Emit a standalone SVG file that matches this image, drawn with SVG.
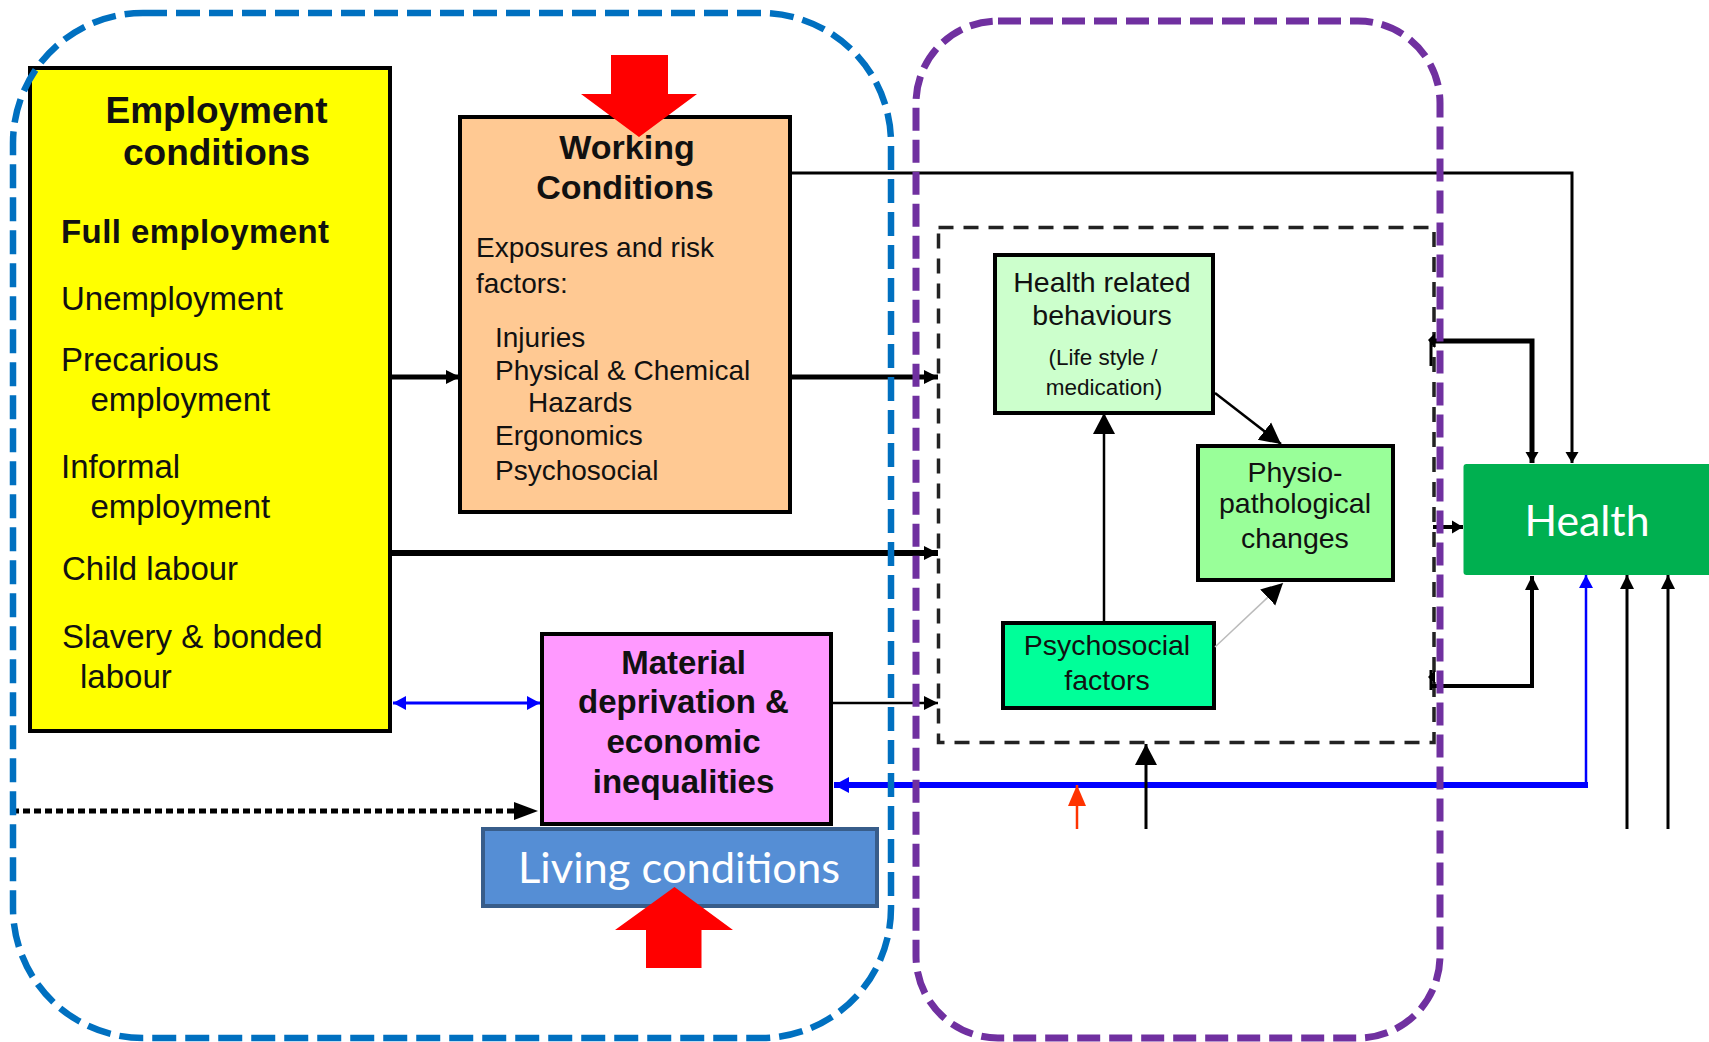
<svg xmlns="http://www.w3.org/2000/svg" width="1709" height="1042" viewBox="0 0 1709 1042">
<defs>
<style>
.box{stroke:#000;stroke-width:4}
.t{font-family:"Liberation Sans",Arial,sans-serif;fill:#111}
.b{font-weight:bold}
.c{text-anchor:middle}
.cal{font-family:Lato,"Open Sans",sans-serif;fill:#fff;text-anchor:middle}
.ln{fill:none;stroke:#000}
</style>
<marker id="ah" markerUnits="userSpaceOnUse" markerWidth="16" markerHeight="16" refX="14" refY="8" orient="auto"><path d="M0,1 L14,8 L0,15 z" fill="#000"/></marker>
<marker id="ahs" markerUnits="userSpaceOnUse" markerWidth="12" markerHeight="14" refX="11" refY="7" orient="auto"><path d="M0,0.5 L11,7 L0,13.5 z" fill="#000"/></marker>
<marker id="ahb" markerUnits="userSpaceOnUse" markerWidth="16" markerHeight="18" refX="15" refY="9" orient="auto-start-reverse"><path d="M0,1 L15,9 L0,17 z" fill="#0000FF"/></marker>
<marker id="ahbs" markerUnits="userSpaceOnUse" markerWidth="14" markerHeight="16" refX="13" refY="8" orient="auto-start-reverse"><path d="M0,1 L13,8 L0,15 z" fill="#0000FF"/></marker>
<marker id="ahr" markerUnits="userSpaceOnUse" markerWidth="22" markerHeight="20" refX="21" refY="10" orient="auto"><path d="M0,1 L21,10 L0,19 z" fill="#FF3300"/></marker>
<marker id="ahl" markerUnits="userSpaceOnUse" markerWidth="22" markerHeight="24" refX="21" refY="12" orient="auto"><path d="M0,1 L21,12 L0,23 z" fill="#000"/></marker>
</defs>

<g id="employment-conditions">
<rect class="box" x="30" y="68" width="360" height="663" fill="#FFFF00"/>
<text class="t b c" x="216.5" y="123" font-size="37">Employment</text>
<text class="t b c" x="216.5" y="165" font-size="37">conditions</text>
<text class="t b" x="61" y="243" font-size="33" textLength="268">Full employment</text>
<text class="t" x="61" y="310" font-size="33">Unemployment</text>
<text class="t" x="61" y="371" font-size="33">Precarious</text>
<text class="t" x="90.5" y="411" font-size="33">employment</text>
<text class="t" x="61" y="478" font-size="33">Informal</text>
<text class="t" x="90.5" y="518" font-size="33">employment</text>
<text class="t" x="62" y="580" font-size="33">Child labour</text>
<text class="t" x="62" y="648" font-size="33">Slavery &amp; bonded</text>
<text class="t" x="80" y="688" font-size="33">labour</text>
</g>

<g id="working-conditions">
<rect class="box" x="460" y="117" width="330" height="395" fill="#FFC993"/>
<text class="t b c" x="627" y="159" font-size="34">Working</text>
<text class="t b c" x="625" y="199" font-size="34">Conditions</text>
<text class="t" x="476" y="257" font-size="28">Exposures and risk</text>
<text class="t" x="476" y="293" font-size="28">factors:</text>
<text class="t" x="495" y="347" font-size="28">Injuries</text>
<text class="t" x="495" y="380" font-size="28">Physical &amp; Chemical</text>
<text class="t" x="528" y="412" font-size="28">Hazards</text>
<text class="t" x="495" y="445" font-size="28">Ergonomics</text>
<text class="t" x="495" y="480" font-size="28">Psychosocial</text>
</g>

<g id="material-deprivation">
<rect class="box" x="542" y="634" width="289" height="190" fill="#FF99FF"/>
<text class="t b c" x="683.5" y="674" font-size="33">Material</text>
<text class="t b c" x="683.5" y="713" font-size="33">deprivation &amp;</text>
<text class="t b c" x="683.5" y="753" font-size="33">economic</text>
<text class="t b c" x="683.5" y="793" font-size="33">inequalities</text>
</g>

<g id="living-conditions">
<rect x="483" y="829" width="394" height="77" fill="#558ED5" stroke="#385D8A" stroke-width="4"/>
<text class="cal" x="679" y="882.5" font-size="42" textLength="322" lengthAdjust="spacingAndGlyphs">Living conditions</text>
</g>

<g id="pathway-box">
<rect x="938.5" y="227.5" width="495.5" height="515" fill="none" stroke="#222" stroke-width="3.5" stroke-dasharray="15 10"/>
</g>

<g id="health-behaviours">
<rect class="box" x="995" y="255" width="218" height="158" fill="#CCFFCC"/>
<text class="t c" x="1102" y="291.5" font-size="28.5">Health related</text>
<text class="t c" x="1102" y="325" font-size="28.5">behaviours</text>
<text class="t c" x="1103" y="365" font-size="22.5">(Life style /</text>
<text class="t c" x="1104" y="395" font-size="22.5">medication)</text>
</g>

<g id="physio-changes">
<rect class="box" x="1198" y="446" width="195" height="134" fill="#99FF99"/>
<text class="t c" x="1295" y="481.5" font-size="28.5">Physio-</text>
<text class="t c" x="1295" y="513" font-size="28.5">pathological</text>
<text class="t c" x="1295" y="548" font-size="28.5">changes</text>
</g>

<g id="psychosocial-factors">
<rect class="box" x="1003" y="623" width="211" height="85" fill="#00FF99"/>
<text class="t c" x="1107" y="655" font-size="28.5">Psychosocial</text>
<text class="t c" x="1107" y="690" font-size="28.5">factors</text>
</g>

<g id="health">
<rect x="1463.5" y="464" width="250" height="111" rx="3" fill="#00B050"/>
<text class="cal" x="1587" y="536" font-size="42" textLength="125" lengthAdjust="spacingAndGlyphs">Health</text>
</g>

<g id="connectors">
<line class="ln" x1="390" y1="377" x2="460" y2="377" stroke-width="5" marker-end="url(#ah)"/>
<line class="ln" x1="790" y1="377" x2="938" y2="377" stroke-width="5" marker-end="url(#ah)"/>
<line class="ln" x1="390" y1="553" x2="938" y2="553" stroke-width="6" marker-end="url(#ah)"/>
<line class="ln" x1="831" y1="703" x2="938" y2="703" stroke-width="2.5" marker-end="url(#ah)"/>
<line x1="393" y1="703" x2="540" y2="703" stroke="#0000FF" stroke-width="3" marker-start="url(#ahbs)" marker-end="url(#ahbs)"/>
<line class="ln" x1="12" y1="811" x2="516" y2="811" stroke-width="5" stroke-dasharray="7 4"/>
<path d="M514,802 L538,811 L514,820 z" fill="#000"/>
<polyline class="ln" points="790,173 1572,173 1572,463" stroke-width="3" marker-end="url(#ahs)"/>
<polyline class="ln" points="1432,341 1532,341 1532,463" stroke-width="5" marker-end="url(#ahs)"/>
<path d="M1428,340 L1435,333 L1435,348 z" fill="#000"/>
<line class="ln" x1="1431" y1="340" x2="1431" y2="366" stroke-width="3"/>
<polyline class="ln" points="1432,686 1532,686 1532,576" stroke-width="4" marker-end="url(#ah)"/>
<path d="M1428,677 L1435,670 L1435,684 z" fill="#000"/>
<line class="ln" x1="1431" y1="670" x2="1431" y2="690" stroke-width="3"/>
<line class="ln" x1="1433" y1="527" x2="1463" y2="527" stroke-width="4" marker-end="url(#ahs)"/>
<line x1="1588" y1="785" x2="834" y2="785" stroke="#0000FF" stroke-width="6" marker-end="url(#ahb)"/>
<line x1="1586" y1="788" x2="1586" y2="575" stroke="#0000FF" stroke-width="2.5" marker-end="url(#ahbs)"/>
<line x1="1077" y1="829" x2="1077" y2="785" stroke="#FF3300" stroke-width="2.5" marker-end="url(#ahr)"/>
<line class="ln" x1="1146" y1="829" x2="1146" y2="744" stroke-width="3" marker-end="url(#ahl)"/>
<line class="ln" x1="1627" y1="829" x2="1627" y2="575" stroke-width="3" marker-end="url(#ah)"/>
<line class="ln" x1="1668" y1="829" x2="1668" y2="575" stroke-width="3" marker-end="url(#ah)"/>
<line class="ln" x1="1104" y1="623" x2="1104" y2="413" stroke-width="2.5" marker-end="url(#ahl)"/>
<line class="ln" x1="1215" y1="393" x2="1281" y2="444" stroke-width="2.5" marker-end="url(#ahl)"/>
<line x1="1215" y1="647" x2="1283" y2="583" stroke="#BBBBBB" stroke-width="1.5" marker-end="url(#ahl)"/>
</g>

<g id="red-arrows">
<polygon points="611,55 668,55 668,94 697,94 639,137 581,94 611,94" fill="#FF0000"/>
<polygon points="674.5,887 733,930 701.5,930 701.5,968 646,968 646,930 615,930" fill="#FF0000"/>
</g>

<g id="groups">
<rect x="13" y="13" width="878" height="1025" rx="130" fill="none" stroke="#0070C0" stroke-width="6.5" stroke-dasharray="24 9"/>
<rect x="916" y="21" width="524" height="1017" rx="82" fill="none" stroke="#7030A0" stroke-width="7" stroke-dasharray="23 9"/>
</g>
</svg>
